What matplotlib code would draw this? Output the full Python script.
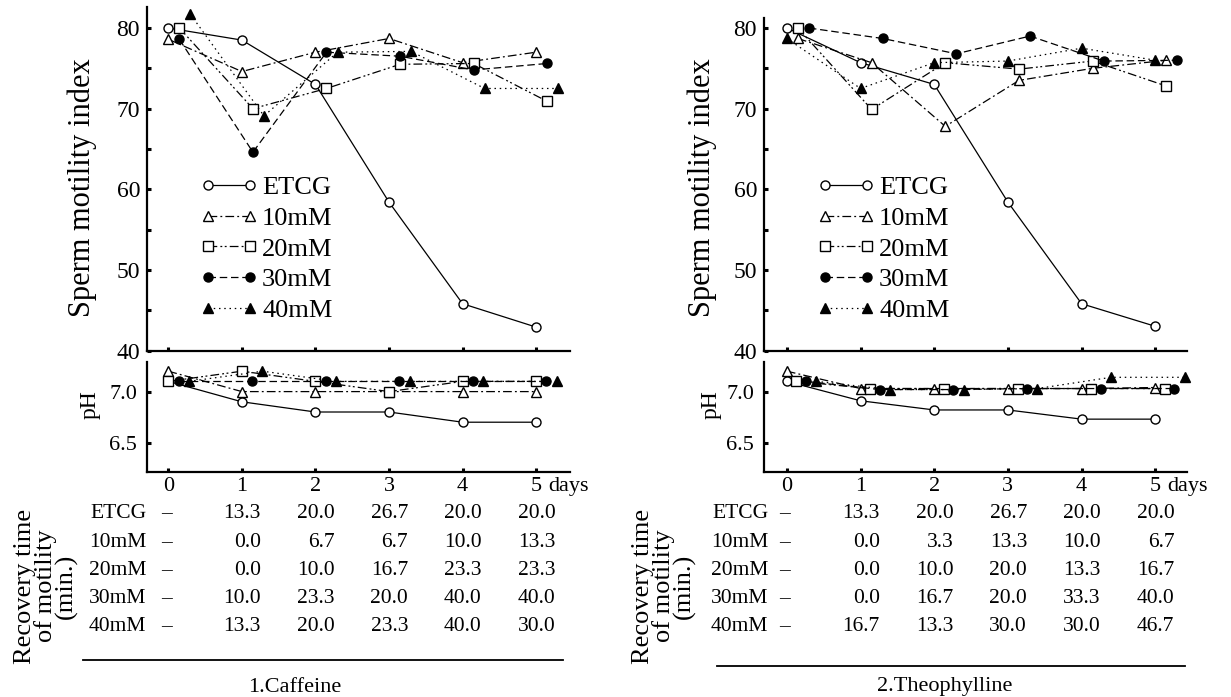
import matplotlib
matplotlib.use('Agg')
import matplotlib.pyplot as plt
from matplotlib.lines import Line2D
from matplotlib import transforms

plt.rcParams['font.family'] = ['Liberation Serif', 'DejaVu Serif']

days = [0, 1, 2, 3, 4, 5]
groups = ['ETCG', '10mM', '20mM', '30mM', '40mM']

# 1. Caffeine
caf_motility_etcg = [80.0, 78.5, 73.0, 58.4, 45.8, 42.9]
caf_motility_10 = [78.6, 74.6, 77.0, 78.7, 75.7, 77.0]
caf_motility_20 = [80.0, 70.0, 72.5, 75.5, 75.6, 70.9]
caf_motility_30 = [78.6, 64.6, 77.0, 76.5, 74.8, 75.6]
caf_motility_40 = [81.7, 69.1, 77.0, 77.1, 72.5, 72.5]

caf_ph_etcg = [7.1, 6.9, 6.8, 6.8, 6.7, 6.7]
caf_ph_10 = [7.2, 7.0, 7.0, 7.0, 7.0, 7.0]
caf_ph_20 = [7.1, 7.2, 7.1, 7.0, 7.1, 7.1]
caf_ph_30 = [7.1, 7.1, 7.1, 7.1, 7.1, 7.1]
caf_ph_40 = [7.1, 7.2, 7.1, 7.1, 7.1, 7.1]

caf_recovery_etcg = [13.3, 20.0, 26.7, 20.0, 20.0]
caf_recovery_10 = [0.0, 6.7, 6.7, 10.0, 13.3]
caf_recovery_20 = [0.0, 10.0, 16.7, 23.3, 23.3]
caf_recovery_30 = [10.0, 23.3, 20.0, 40.0, 40.0]
caf_recovery_40 = [13.3, 20.0, 23.3, 40.0, 30.0]

# 2. Theophylline
theo_motility_etcg = [80.0, 75.7, 73.0, 58.4, 45.8, 43.0]
theo_motility_10 = [78.7, 75.7, 67.8, 73.5, 75.0, 76.0]
theo_motility_20 = [80.0, 69.9, 75.7, 74.9, 75.9, 72.8]
theo_motility_30 = [80.0, 78.7, 76.8, 79.0, 75.9, 76.0]
theo_motility_40 = [78.7, 72.5, 75.7, 75.9, 77.5, 76.0]

theo_ph_etcg = [7.1, 6.91, 6.82, 6.82, 6.73, 6.73]
theo_ph_10 = [7.2, 7.03, 7.03, 7.03, 7.03, 7.04]
theo_ph_20 = [7.1, 7.03, 7.03, 7.03, 7.03, 7.03]
theo_ph_30 = [7.1, 7.02, 7.02, 7.03, 7.03, 7.03]
theo_ph_40 = [7.1, 7.02, 7.02, 7.03, 7.14, 7.14]

theo_recovery_etcg = [13.3, 20.0, 26.7, 20.0, 20.0]
theo_recovery_10 = [0.0, 3.3, 13.3, 10.0, 6.7]
theo_recovery_20 = [0.0, 10.0, 20.0, 13.3, 16.7]
theo_recovery_30 = [0.0, 16.7, 20.0, 33.3, 40.0]
theo_recovery_40 = [16.7, 13.3, 30.0, 30.0, 46.7]

W, H = 1231, 697

styles = {
    'ETCG': dict(marker='o', mfc='white', ls='-'),
    '10mM': dict(marker='^', mfc='white', dashes=(7, 2.5, 1.5, 2.5)),
    '20mM': dict(marker='s', mfc='white', dashes=(7, 2.5, 1.5, 2, 1.5, 2.5)),
    '30mM': dict(marker='o', mfc='black', dashes=(6, 3)),
    '40mM': dict(marker='^', mfc='black', dashes=(1.2, 3)),
}


def fig_axes(fig, left, top, right, bottom):
    # pixel box -> figure fraction
    return fig.add_axes([left / W, 1 - bottom / H,
                         (right - left) / W, (bottom - top) / H])


def style_axes(ax):
    for s in ['top', 'right']:
        ax.spines[s].set_visible(False)
    for s in ['left', 'bottom']:
        ax.spines[s].set_linewidth(1.6)
    ax.tick_params(which='both', direction='in', length=3, width=2.2)


def draw_series(ax, series, offsets):
    for g, vals, off in zip(groups, series, offsets):
        st = dict(styles[g])
        ax.plot([d + off for d in days], vals, color='black', lw=0.9,
                ms=6.5, mec='black', mew=1.0, clip_on=False, zorder=3, **st)


def panel(fig, x0, x1, top_mot, xlim, mot, ph, rec, ph_off, mot_off,
          title, ylab_x, ph_lab_x, rec_lab_x, line_x, line_y, title_x,
          leg_x, row_lab_x):
    ax = fig_axes(fig, x0, top_mot, x1, 350.5)
    axp = fig_axes(fig, x0, 362, x1, 471.7)
    for a in (ax, axp):
        style_axes(a)
        a.set_xlim(*xlim)
        a.set_xticks(days)

    # motility
    ax.set_ylim(40, 80 + (28 - top_mot) / 8.06)
    ax.set_yticks([40, 50, 60, 70, 80])
    ax.set_yticks([45, 55, 65, 75], minor=True)
    ax.set_xticklabels([])
    ax.tick_params(axis='y', labelsize=17, pad=5)
    draw_series(ax, mot, mot_off)
    handles = [Line2D([], [], color='black', lw=0.9, ms=6.5, mec='black',
                      **styles[g]) for g in groups]
    ax.legend(handles, groups, loc='upper left', numpoints=2,
              bbox_to_anchor=(leg_x / W, 1 - 176 / H),
              bbox_transform=fig.transFigure, frameon=False, fontsize=19,
              handlelength=2.2, handletextpad=0.15, labelspacing=0.27,
              borderpad=0, borderaxespad=0)

    # pH
    axp.set_ylim(6.215, 7.29)
    axp.set_yticks([6.5, 7.0])
    axp.set_yticklabels(['6.5', '7.0'])
    axp.tick_params(axis='y', labelsize=16, pad=7)
    axp.tick_params(axis='x', labelsize=16, pad=4)
    draw_series(axp, ph, ph_off)
    axp.annotate('days', xy=(5, 0), xycoords=('data', 'axes fraction'),
                 xytext=(8.5, -4), textcoords='offset points',
                 ha='left', va='top', fontsize=16)

    # axis titles
    fig.text(ylab_x / W, 1 - 188 / H, 'Sperm motility index', rotation=90,
             ha='center', va='center', fontsize=22)
    fig.text(ph_lab_x / W, 1 - 405 / H, 'pH', rotation=90,
             ha='center', va='center', fontsize=17)
    fig.text(rec_lab_x / W, 1 - 586 / H, 'Recovery time\nof motility\n(min.)',
             rotation=90, ha='center', va='center', fontsize=19,
             linespacing=0.9, multialignment='center')

    # recovery table under the axis
    tr = transforms.blended_transform_factory(axp.transData, fig.transFigure)
    for i, (g, row) in enumerate(zip(groups, rec)):
        yy = 1 - (514 + 28.2 * i) / H
        fig.text(row_lab_x, yy, g, transform=tr, ha='right', va='center',
                 fontsize=15.5)
        fig.text(-0.03, yy, '\u2013', transform=tr, ha='center',
                 va='center', fontsize=15.5)
        for d, v in zip(days[1:], row):
            fig.text(d + 0.26, yy, f'{v:.1f}', transform=tr, ha='right',
                     va='center', fontsize=15.5)
    fig.add_artist(Line2D([line_x[0] / W, line_x[1] / W],
                          [1 - line_y / H, 1 - line_y / H],
                          color='black', lw=1.3))
    fig.text(title_x / W, 1 - 687 / H, title, ha='center', va='center',
             fontsize=16)


fig = plt.figure(figsize=(W / 100, H / 100), dpi=100)

panel(fig, 147, 570, 7, (-0.29, 5.46),
      [caf_motility_etcg, caf_motility_10, caf_motility_20,
       caf_motility_30, caf_motility_40],
      [caf_ph_etcg, caf_ph_10, caf_ph_20, caf_ph_30, caf_ph_40],
      [caf_recovery_etcg, caf_recovery_10, caf_recovery_20,
       caf_recovery_30, caf_recovery_40],
      ph_off=[0, 0, 0, 0.14, 0.28], mot_off=[0, 0, 0.15, 0.15, 0.3],
      title='1.Caffeine', ylab_x=82, ph_lab_x=90, rec_lab_x=46,
      line_x=(83, 563), line_y=660, title_x=295, leg_x=200,
      row_lab_x=-0.3)

panel(fig, 764, 1187, 18, (-0.31, 5.43),
      [theo_motility_etcg, theo_motility_10, theo_motility_20,
       theo_motility_30, theo_motility_40],
      [theo_ph_etcg, theo_ph_10, theo_ph_20, theo_ph_30, theo_ph_40],
      [theo_recovery_etcg, theo_recovery_10, theo_recovery_20,
       theo_recovery_30, theo_recovery_40],
      ph_off=[0, 0, 0.13, 0.26, 0.4], mot_off=[0, 0.15, 0.15, 0.3, 0],
      title='2.Theophylline', ylab_x=702, ph_lab_x=711, rec_lab_x=664,
      line_x=(717, 1185), line_y=666, title_x=945, leg_x=817,
      row_lab_x=-0.25)

fig.savefig('out.png', dpi=100)
